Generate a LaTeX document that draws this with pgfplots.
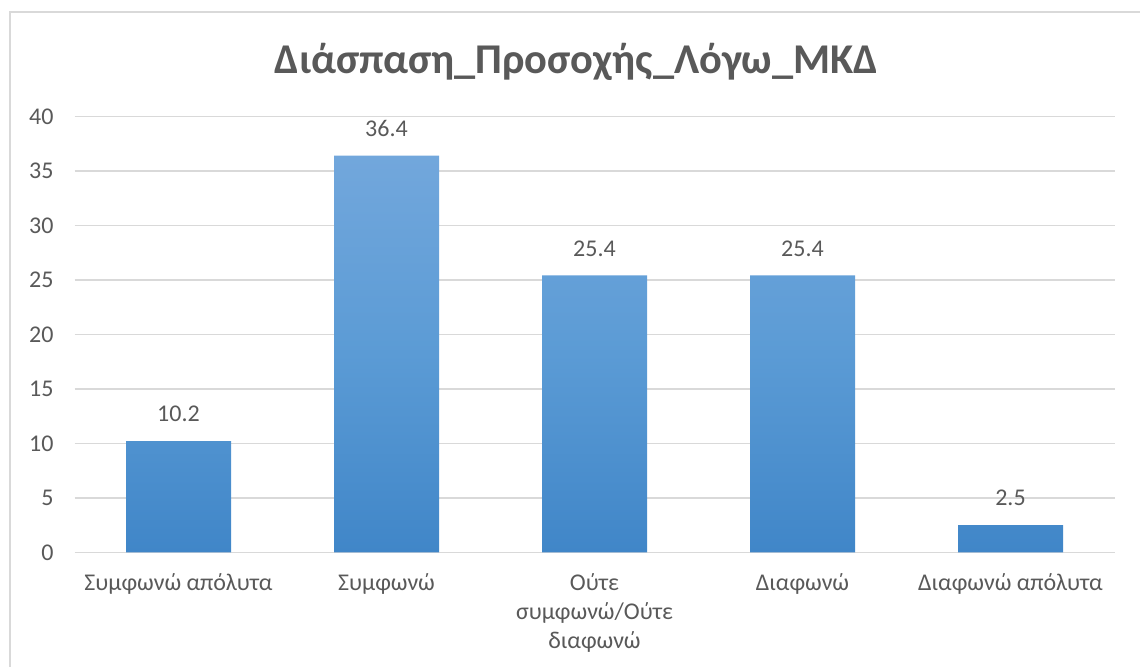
\documentclass[border=0pt]{standalone}
\usepackage{fontspec}
\setmainfont{Carlito}
\usepackage{pgfplots}
\pgfplotsset{compat=1.18}

\definecolor{txt}{HTML}{595959}
\definecolor{gridc}{HTML}{D9D9D9}
\definecolor{bartop}{HTML}{72A7DC}
\definecolor{barmid}{HTML}{5B9BD5}
\definecolor{barbot}{HTML}{4086C8}

\begin{document}
\begin{tikzpicture}
\path[use as bounding box] (-37.25pt,-56.85pt) rectangle (532.75pt,276.15pt);
% chart frame
\draw[gridc, line width=1pt] (-32.25pt,-60pt) -- (-32.25pt,270.15pt) -- (540pt,270.15pt);
\node[anchor=base, text=txt, font=\bfseries\fontsize{21.2}{25}\selectfont]
  at (251pt,239.65pt) {Διάσπαση\_Προσοχής\_Λόγω\_ΜΚΔ};

\begin{axis}[
  at={(0,0)}, anchor=south west,
  scale only axis, width=520pt, height=218pt,
  xmin=-0.5, xmax=4.5, ymin=0, ymax=40,
  ytick={0,5,...,40},
  xtick={0,1,2,3,4},
  xticklabels={Συμφωνώ απόλυτα, Συμφωνώ, {Ούτε\\συμφωνώ/Ούτε\\διαφωνώ}, Διαφωνώ, Διαφωνώ απόλυτα},
  xticklabel style={align=center, font=\fontsize{12}{14.5}\selectfont, text=txt, yshift=-7pt},
  yticklabel style={font=\fontsize{12}{14.5}\selectfont, text=txt, xshift=-7pt},
  /pgf/number format/assume math mode=true,
  axis line style={draw=none},
  major tick length=0pt,
  ymajorgrids, grid style={gridc, line width=0.8pt},
  nodes near coords,
  nodes near coords style={font=\fontsize{12}{14.5}\selectfont, text=txt, yshift=6pt},
]
\addplot[ybar, bar width=52.5pt, draw=none,
  top color=bartop, bottom color=barbot, middle color=barmid]
  coordinates {(0,10.2) (1,36.4) (2,25.4) (3,25.4) (4,2.5)};
\end{axis}
\end{tikzpicture}
\end{document}
